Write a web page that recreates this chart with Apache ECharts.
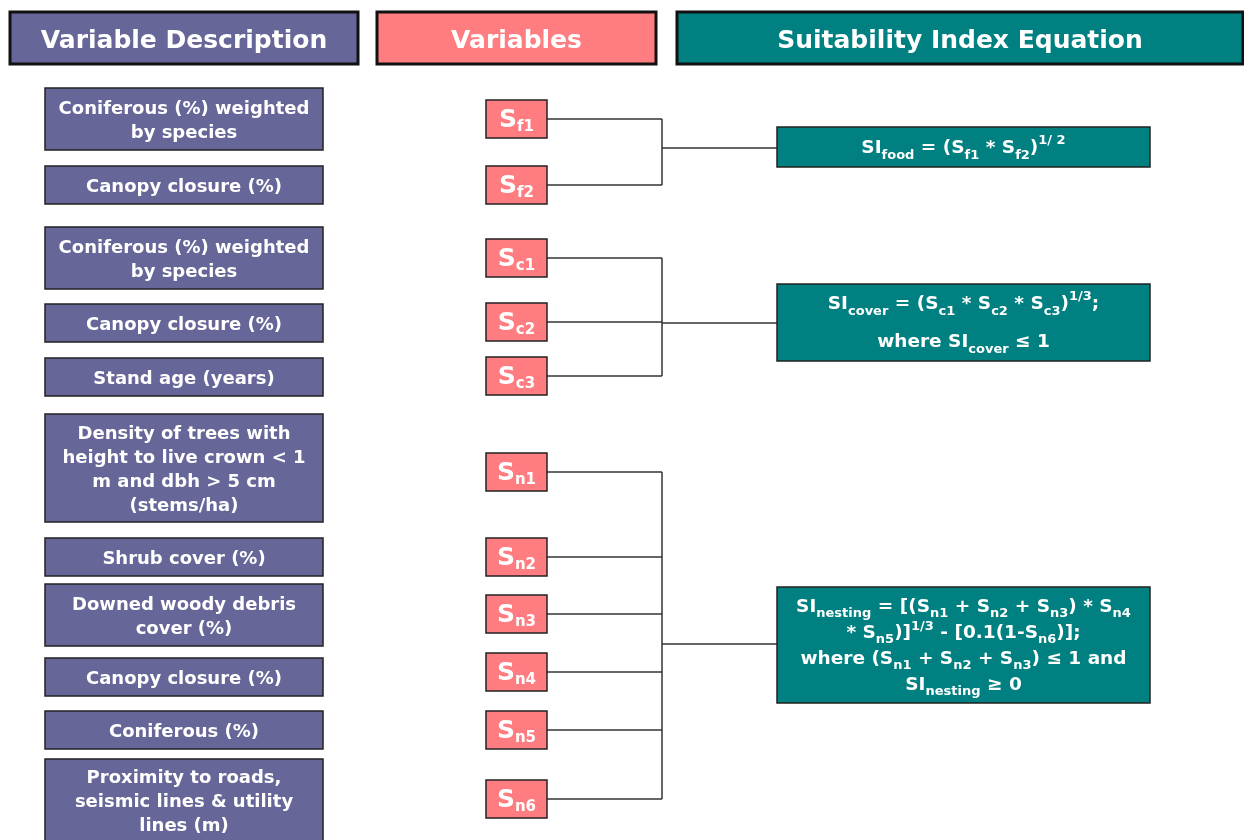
<!DOCTYPE html>
<html>
<head>
<meta charset="utf-8">
<script src="https://cdn.jsdelivr.net/npm/echarts@6/dist/echarts.min.js"></script>
<style>
  html, body { margin: 0; padding: 0; background: #fff; }
  #chart { width: 1244px; height: 840px; }
</style>
</head>
<body>
<div id="chart"></div>
<script>
// diagram content (y values in diagram units, 0 = top)
const headers = ['Variable Description', 'Variables', 'Suitability Index Equation']
const headerCols = [[10, 358], [377, 656], [677, 1243]]

const descriptions = [
  'Coniferous (%) weighted\nby species',
  'Canopy closure (%)',
  'Coniferous (%) weighted\nby species',
  'Canopy closure (%)',
  'Stand age (years)',
  'Density of trees with\nheight to live crown < 1\nm and dbh > 5 cm\n(stems/ha)',
  'Shrub cover (%)',
  'Downed woody debris\ncover (%)',
  'Canopy closure (%)',
  'Coniferous (%)',
  'Proximity to roads,\nseismic lines & utility\nlines (m)'
]
const descRows = [[88, 150], [166, 204], [227, 289], [304, 342], [358, 396], [414, 522],
  [538, 576], [584, 646], [658, 696], [711, 749], [759, 842]]

const variables = ['f1', 'f2', 'c1', 'c2', 'c3', 'n1', 'n2', 'n3', 'n4', 'n5', 'n6']
const varRows = [119, 185, 258, 322, 376, 472, 557, 614, 672, 730, 799]
const varGroup = [0, 0, 1, 1, 1, 2, 2, 2, 2, 2, 2]

const equations = [
  '{b|SI}{s|food}{b| = (S}{s|f1}{b| * S}{s|f2}{b|)}{p|1/ 2}',
  '{b|SI}{s|cover}{b| = (S}{s|c1}{b| * S}{s|c2}{b| * S}{s|c3}{b|)}{p|1/3}{b|;}\n{g| }\n{b|where SI}{s|cover}{b| ≤ 1}',
  '{b|SI}{s|nesting}{b| = [(S}{s|n1}{b| + S}{s|n2}{b| + S}{s|n3}{b|) * S}{s|n4}\n' +
    '{b|* S}{s|n5}{b|)]}{p|1/3}{b| - [0.1(1-S}{s|n6}{b|)];}\n' +
    '{b|where (S}{s|n1}{b| + S}{s|n2}{b| + S}{s|n3}{b|) ≤ 1 and}\n' +
    '{b|SI}{s|nesting}{b| ≥ 0}'
]
const eqRows = [[127, 167], [284, 361], [587, 703]]
const eqJoin = [148, 323, 644]

// layout / style
const FONT = 'DejaVu Sans'
const PURPLE = '#666699'
const SALMON = '#FF7C80'
const TEAL = '#008080'
const descX = [45, 323]
const varX = [486, 547]
const varH = 38
const busX = 662
const eqX = [777, 1150]
const eqLineH = [28, 28, 26]

function richFor(L, big, small) {
  return {
    b: { fontSize: big, fontWeight: 'bold', fontFamily: FONT, color: '#fff', lineHeight: L },
    s: { fontSize: small, fontWeight: 'bold', fontFamily: FONT, color: '#fff', lineHeight: L - 12, verticalAlign: 'bottom' },
    p: { fontSize: small, fontWeight: 'bold', fontFamily: FONT, color: '#fff', lineHeight: L - 12, verticalAlign: 'top' },
    g: { fontSize: 4, lineHeight: 10 }
  }
}

function boxItem(api, x0, y0, x1, y1, fill, stroke, lw, textStyle, dy) {
  const p0 = api.coord([x0, y0])
  const p1 = api.coord([x1, y1])
  return {
    type: 'group',
    children: [
      { type: 'rect', shape: { x: p0[0], y: p0[1], width: p1[0] - p0[0], height: p1[1] - p0[1] },
        style: { fill: fill, stroke: stroke, lineWidth: lw } },
      { type: 'text', style: Object.assign({
        x: (p0[0] + p1[0]) / 2, y: (p0[1] + p1[1]) / 2 + (dy || 0),
        align: 'center', verticalAlign: 'middle', fill: '#fff',
        fontFamily: FONT, fontWeight: 'bold'
      }, textStyle) }
    ]
  }
}

const headerFill = [PURPLE, SALMON, TEAL]

const chart = echarts.init(document.getElementById('chart'))
chart.setOption({
  animation: false,
  grid: { left: 0, right: 0, top: 0, bottom: 0 },
  xAxis: { type: 'value', min: 0, max: 1244, show: false },
  yAxis: { type: 'value', min: 0, max: 840, inverse: true, show: false },
  series: [
    {
      // connectors
      type: 'custom',
      data: equations.map((e, i) => [i]),
      renderItem: function(params, api) {
        const g = api.value(0)
        const ys = varRows.filter((y, i) => varGroup[i] === g)
        const style = { stroke: '#333', lineWidth: 1.5, fill: null }
        const children = ys.map(y => {
          const a = api.coord([varX[1], y])
          const b = api.coord([busX, y])
          return { type: 'line', shape: { x1: a[0], y1: a[1], x2: b[0], y2: b[1] }, style: style }
        })
        const top = api.coord([busX, Math.min(...ys)])
        const bot = api.coord([busX, Math.max(...ys)])
        children.push({ type: 'line', shape: { x1: top[0], y1: top[1], x2: bot[0], y2: bot[1] }, style: style })
        const j0 = api.coord([busX, eqJoin[g]])
        const j1 = api.coord([eqX[0], eqJoin[g]])
        children.push({ type: 'line', shape: { x1: j0[0], y1: j0[1], x2: j1[0], y2: j1[1] }, style: style })
        return { type: 'group', children: children }
      }
    },
    {
      // column headers
      type: 'custom',
      data: headers.map((h, i) => [i]),
      renderItem: function(params, api) {
        const i = api.value(0)
        return boxItem(api, headerCols[i][0], 12, headerCols[i][1], 64, headerFill[i], '#111', 3,
          { text: headers[i], fontSize: 25 }, 3)
      }
    },
    {
      // variable descriptions
      type: 'custom',
      data: descriptions.map((d, i) => [descRows[i][0], descRows[i][1]]),
      renderItem: function(params, api) {
        const i = params.dataIndex
        return boxItem(api, descX[0], api.value(0), descX[1], api.value(1), PURPLE, '#222', 1.5,
          { text: descriptions[i], fontSize: 18, lineHeight: 24 }, 2)
      }
    },
    {
      // variables
      type: 'custom',
      data: variables.map((v, i) => [varRows[i]]),
      renderItem: function(params, api) {
        const i = params.dataIndex
        const y = api.value(0)
        return boxItem(api, varX[0], y - varH / 2, varX[1], y + varH / 2, SALMON, '#222', 1.5,
          { text: '{b|S}{s|' + variables[i] + '}', rich: richFor(30, 25, 15) }, 1)
      }
    },
    {
      // equations
      type: 'custom',
      data: equations.map((e, i) => [eqRows[i][0], eqRows[i][1]]),
      renderItem: function(params, api) {
        const i = params.dataIndex
        return boxItem(api, eqX[0], api.value(0), eqX[1], api.value(1), TEAL, '#222', 1.5,
          { text: equations[i], rich: richFor(eqLineH[i], 18.5, 13) }, 1)
      }
    }
  ]
})
</script>
</body>
</html>
